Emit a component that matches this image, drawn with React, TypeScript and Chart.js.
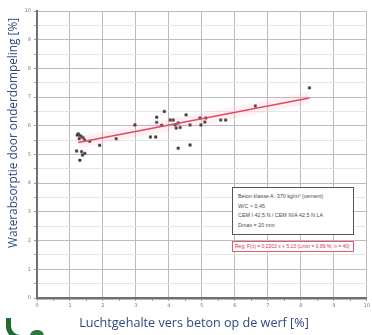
import React, { useEffect, useRef } from "react";
import { Chart, registerables } from "chart.js";

Chart.register(...registerables);

const airContent = [
  1.25, 1.3, 1.35, 1.28, 1.4, 1.22, 1.45, 1.6, 1.9, 2.4, 2.97, 1.2, 1.35, 1.45, 1.3, 1.38,
  3.44, 3.6, 3.63, 3.63, 3.86, 3.78, 4.04, 4.13, 4.19, 4.22, 4.28, 4.34, 4.28, 4.52, 4.64,
  4.64, 4.94, 4.97, 5.09, 5.12, 5.57, 5.72, 6.62, 8.26,
];
const absorption = [
  5.72, 5.66, 5.62, 5.55, 5.58, 5.68, 5.5, 5.46, 5.32, 5.55, 6.03, 5.12, 5.1, 5.04, 4.8, 4.98,
  5.61, 5.61, 6.3, 6.12, 6.5, 6.02, 6.2, 6.2, 6.03, 5.92, 6.1, 5.94, 5.22, 6.38, 6.03,
  5.33, 6.27, 6.03, 6.13, 6.27, 6.2, 6.2, 6.69, 7.32,
];
const fitX = [1.25, 8.26];
const fitY = [5.42, 6.97];

const xTitle = "Luchtgehalte vers beton op de werf [%]";
const yTitle = "Waterabsorptie door onderdompeling  [%]";
const infoLines = [
  "Beton klasse A: 370 kg/m³ (cement)",
  "W/C < 0,45",
  "CEM I 42,5 N / CEM III/A 42,5 N LA",
  "Dmax = 20 mm",
];
const fitLabel = "Reg: F(x) = 0,2203 x + 5,13 (Lmin = 0,89 %, n = 40)";

export default function App() {
  const ref = useRef<HTMLCanvasElement | null>(null);

  useEffect(() => {
    if (!ref.current) return;
    const pts = airContent.map((x, i) => ({ x, y: absorption[i] }));
    const fit = fitX.map((x, i) => ({ x, y: fitY[i] }));
    const chart = new Chart(ref.current, {
      type: "scatter",
      data: {
        datasets: [
          {
            data: fit,
            showLine: true,
            borderColor: "rgba(255,150,170,0.13)",
            borderWidth: 12,
            pointRadius: 0,
          },
          {
            data: fit,
            showLine: true,
            borderColor: "#e23d58",
            borderWidth: 1.5,
            pointRadius: 0,
          },
          {
            data: pts,
            pointStyle: "rect",
            pointRadius: 1.7,
            backgroundColor: "#333",
            borderColor: "#555",
            borderWidth: 0.6,
          },
        ],
      },
      options: {
        animation: false,
        responsive: false,
        maintainAspectRatio: false,
        layout: { padding: { top: 11, right: 1, left: 0, bottom: 0 } },
        plugins: { legend: { display: false }, tooltip: { enabled: false } },
        scales: {
          x: {
            type: "linear",
            min: 0,
            max: 10,
            afterFit: (s: any) => {
              s.height = 37;
            },
            ticks: {
              stepSize: 0.5,
              autoSkip: false,
              maxRotation: 0,
              padding: 2,
              color: "#7a7a7a",
              font: { size: 5, family: "DejaVu Sans" },
              callback: (v: any) => (Number(v) % 1 === 0 ? String(v) : ""),
            },
            grid: {
              color: (c: any) => (c.tick && c.tick.value % 1 === 0 ? "#bcbcbc" : "rgba(0,0,0,0)"),
              tickColor: "#a0a0a0",
              tickLength: 3,
              lineWidth: 1,
            },
            border: { color: "#707070", width: 2.5 },
          },
          y: {
            type: "linear",
            min: 0,
            max: 10,
            afterFit: (s: any) => {
              s.width = 37;
            },
            ticks: {
              stepSize: 0.5,
              autoSkip: false,
              padding: 3,
              color: "#7a7a7a",
              font: { size: 5, family: "DejaVu Sans" },
              callback: (v: any) => (Number(v) % 1 === 0 ? String(v) : ""),
            },
            grid: {
              color: (c: any) => (c.tick && c.tick.value % 1 === 0 ? "#bcbcbc" : "#e6e6e6"),
              tickColor: "#a0a0a0",
              tickLength: 3,
              lineWidth: 1,
            },
            border: { color: "#707070", width: 2 },
          },
        },
      },
    });
    return () => chart.destroy();
  }, []);

  const titleColor = "#2c4a7e";
  return (
    <div style={{ position: "absolute", left: 0, top: 0, width: 372, height: 335, background: "#fff", overflow: "hidden" }}>
      <canvas ref={ref} width={372} height={335} style={{ position: "absolute", left: 0, top: 0, width: 372, height: 335 }} />
      <div
        style={{
          position: "absolute",
          left: 12 - 140,
          top: 133 - 8,
          width: 280,
          height: 16,
          lineHeight: "16px",
          textAlign: "center",
          transform: "rotate(-90deg)",
          fontFamily: "'Open Sans', sans-serif",
          fontSize: 11.8,
          color: titleColor,
          whiteSpace: "nowrap",
        }}
      >
        {yTitle}
      </div>
      <div
        style={{
          position: "absolute",
          left: 194 - 150,
          top: 315,
          width: 300,
          height: 16,
          lineHeight: "16px",
          textAlign: "center",
          fontFamily: "'Open Sans', sans-serif",
          fontSize: 12.6,
          color: titleColor,
          whiteSpace: "nowrap",
        }}
      >
        {xTitle}
      </div>
      <div
        style={{
          position: "absolute",
          left: 232,
          top: 187,
          width: 122,
          height: 48,
          border: "1px solid #555",
          background: "#fff",
          boxSizing: "border-box",
          padding: "4px 5px",
          fontFamily: "'Liberation Sans', sans-serif",
          fontSize: 5.4,
          lineHeight: "9.5px",
          color: "#4a4a4a",
          whiteSpace: "nowrap",
        }}
      >
        {infoLines.map((l, i) => (
          <div key={i}>{l}</div>
        ))}
      </div>
      <div
        style={{
          position: "absolute",
          left: 232,
          top: 241,
          width: 122,
          height: 11,
          border: "1px solid #e05a70",
          background: "#fff",
          boxSizing: "border-box",
          padding: "0 2px",
          fontFamily: "'Liberation Sans', sans-serif",
          fontSize: 5,
          lineHeight: "9px",
          color: "#e0304e",
          whiteSpace: "nowrap",
        }}
      >
        {fitLabel}
      </div>
      <div
        style={{
          position: "absolute",
          left: 6,
          top: 318,
          width: 14,
          height: 22,
          borderLeft: "5px solid #1f6b2f",
          borderBottom: "5px solid #1f6b2f",
          borderBottomLeftRadius: 14,
          boxSizing: "border-box",
        }}
      />
      <div
        style={{
          position: "absolute",
          left: 30,
          top: 330,
          width: 14,
          height: 6,
          background: "#2d7a3a",
          borderTopLeftRadius: 6,
          borderTopRightRadius: 6,
        }}
      />
    </div>
  );
}
